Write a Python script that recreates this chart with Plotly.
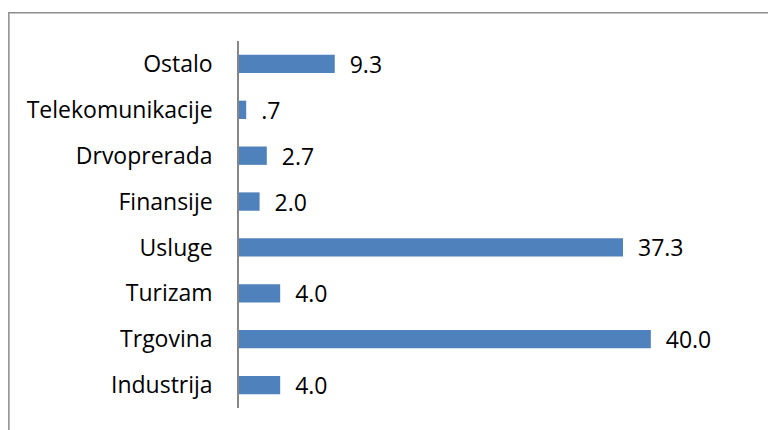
import plotly.graph_objects as go

categories = ["Industrija", "Trgovina", "Turizam", "Usluge", "Finansije", "Drvoprerada", "Telekomunikacije", "Ostalo"]
values = [4.0, 40.0, 4.0, 37.3, 2.0, 2.7, 0.7, 9.3]
value_labels = ["4.0", "40.0", "4.0", "37.3", "2.0", "2.7", ".7", "9.3"]

# page body has an 8px margin, so the figure is drawn 8px smaller
W, H = 768, 422
L, T = 231, 33
PLOT_BOTTOM = 400
B = H - PLOT_BOTTOM
XMAX = 44.0
plot_w = 412 / 40 * XMAX
R = W - L - plot_w
plot_h = H - T - B

def px2x(px):
    return (px - L) / plot_w

def py2y(py):
    return (H - B - py) / plot_h

FONT = "Open Sans"
FS = 23

fig = go.Figure(go.Bar(
    x=values, y=categories, orientation="h",
    marker=dict(color="#4f81bd", line=dict(color="#4f81bd", width=0)),
    width=0.4,
    text=["  " + t for t in value_labels],
    textposition="outside",
    constraintext="none",
    textfont=dict(family=FONT, size=FS, color="#000000"),
    cliponaxis=False,
))

fig.update_layout(
    width=W, height=H,
    margin=dict(l=L, r=R, t=T, b=B, autoexpand=False),
    paper_bgcolor="white", plot_bgcolor="white",
    showlegend=False,
    xaxis=dict(range=[0, XMAX], showgrid=False, zeroline=False, showline=False,
               showticklabels=False, ticks="", automargin=False),
    yaxis=dict(categoryorder="array", categoryarray=categories, automargin=False,
               showgrid=False, zeroline=False, showline=True, linecolor="#868686", linewidth=1.5,
               ticks="", ticklabelstandoff=20,
               tickfont=dict(family=FONT, size=FS, color="#000000")),
    shapes=[dict(type="rect", xref="paper", yref="paper",
                 x0=px2x(0.75), x1=px2x(800), y0=py2y(460), y1=py2y(4.75),
                 line=dict(color="#8c8c8c", width=1.5), fillcolor="rgba(0,0,0,0)", layer="below")],
)

fig.write_html("out.html")
